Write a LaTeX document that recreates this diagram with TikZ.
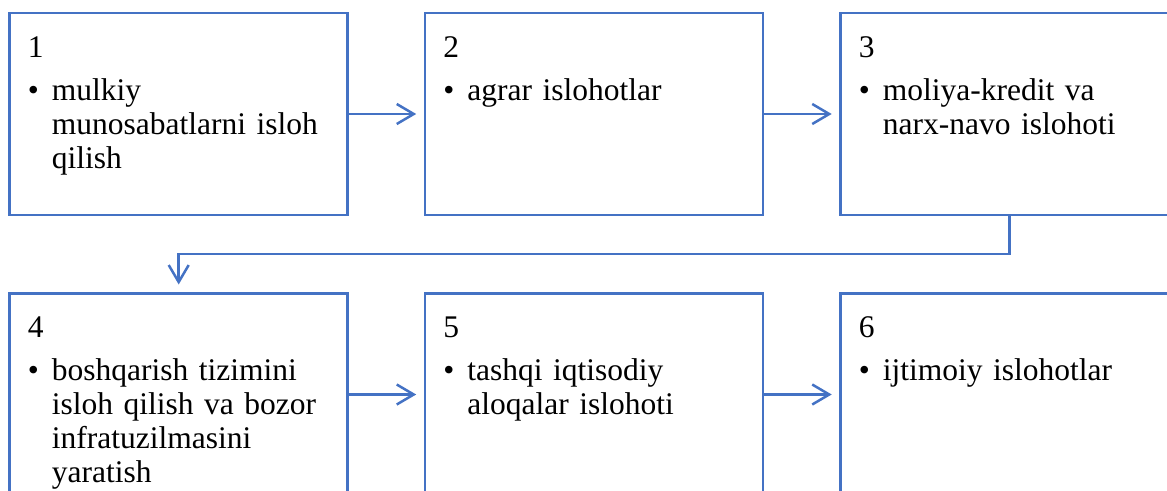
\documentclass[tikz,border=0pt]{standalone}
\usepackage{fontspec}
\setmainfont{Liberation Serif}
\usetikzlibrary{positioning,arrows.meta}
\definecolor{reformblue}{RGB}{68,114,196}
\newcommand{\stagefont}{\fontsize{31.5}{34}\selectfont\hyphenpenalty=10000\relax\exhyphenpenalty=10000\relax}
\newcommand{\stagenum}[1]{\strut #1\par\vspace{9pt}}
\newcommand{\stagepoint}[1]{\noindent\hangindent=24pt\relax\hangafter=1\relax\makebox[24pt][l]{\textbullet}#1\par}

\begin{document}
\begin{tikzpicture}[x=1pt, y=1pt, node distance=77.5pt,
        stagebox/.style={draw=reformblue, line width=2.5pt, minimum width=338pt, minimum height=202pt, inner sep=0pt, outer sep=0pt},
        stagetext/.style={inner sep=0pt, text width=298pt, align=left, font=\stagefont},
        link/.style={draw=reformblue, line width=2.5pt, -{Straight Barb[length=17pt,width=20pt]}, shorten >=9pt}]
            \useasboundingbox (0,0) rectangle (1167,-490);
            \node[stagebox] (mulkiy) at (178.7,-114) {};
            \node[stagebox] (agrar) [right=of mulkiy] {};
            \node[stagebox] (moliya) [right=of agrar] {};
            \node[stagebox] (boshqaruv) [below=78.5pt of mulkiy] {};
            \node[stagebox] (tashqi) [right=of boshqaruv] {};
            \node[stagebox] (ijtimoiy) [right=of tashqi] {};
            \node[stagetext] (mulkiy_text) [below right=20pt and 18pt of mulkiy.north west] {\stagenum{1}\stagepoint{mulkiy munosabatlarni isloh qilish}};
            \node[stagetext] (agrar_text) [below right=20pt and 18pt of agrar.north west] {\stagenum{2}\stagepoint{agrar islohotlar}};
            \node[stagetext] (moliya_text) [below right=20pt and 18pt of moliya.north west] {\stagenum{3}\stagepoint{moliya-kredit va narx-navo islohoti}};
            \node[stagetext] (boshqaruv_text) [below right=20pt and 18pt of boshqaruv.north west] {\stagenum{4}\stagepoint{boshqarish tizimini isloh qilish va bozor infratuzilmasini yaratish}};
            \node[stagetext] (tashqi_text) [below right=20pt and 18pt of tashqi.north west] {\stagenum{5}\stagepoint{tashqi iqtisodiy aloqalar islohoti}};
            \node[stagetext] (ijtimoiy_text) [below right=20pt and 18pt of ijtimoiy.north west] {\stagenum{6}\stagepoint{ijtimoiy islohotlar}};
            \draw[link] (mulkiy) -- (agrar);
            \draw[link] (agrar) -- (moliya);
            \draw[link] (moliya.south) -- ++(0,-39) -| (boshqaruv.north);
            \draw[link] (boshqaruv) -- (tashqi);
            \draw[link] (tashqi) -- (ijtimoiy);
        \end{tikzpicture}
\end{document}
